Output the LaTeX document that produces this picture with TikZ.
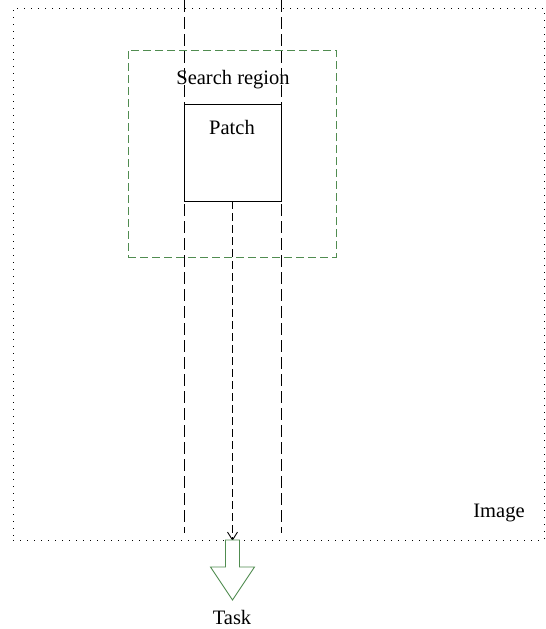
\documentclass[tikz,border=0pt]{standalone}
\usepackage{fontspec}
\setmainfont{Liberation Serif}
\usetikzlibrary{calc}
\definecolor{grn}{RGB}{80,140,80}
\begin{document}
\begin{tikzpicture}[x=1pt,y=-1pt,
  every node/.style={font=\fontsize{20.5}{24}\selectfont, inner sep=0pt, outer sep=0pt},
  imagebox/.style={draw=black, line width=0.9pt, dash pattern=on 1pt off 6pt, anchor=north west},
  searchbox/.style={draw=grn, line width=0.9pt, dash pattern=on 8pt off 4pt, anchor=north west},
  patchbox/.style={draw=black, line width=0.9pt, anchor=north west},
  guide/.style={draw=black, line width=0.9pt, dash pattern=on 12pt off 5pt},
  flow/.style={draw=black, line width=0.9pt, dash pattern=on 8pt off 4pt},
  bigarrow/.style={draw=grn, line width=0.9pt, fill=white}
]
\useasboundingbox (0,0) rectangle (546,629);
\node[imagebox, minimum width=531pt, minimum height=532pt] (img) at (13,8) {};
\node (imglabel) at (499,513) {Image};
\node[searchbox, minimum width=208pt, minimum height=207pt] (sr) at (128,50) {};
\node[patchbox, minimum width=97pt, minimum height=97pt] (patch) at (184,104) {};
\coordinate (g1t) at (184,0);
\coordinate (g1b) at (184,533);
\coordinate (g2t) at (281,0);
\coordinate (g2b) at (281,533);
\draw[guide] (g1t) -- (g1b);
\draw[guide] (g2t) -- (g2b);
\node (srlabel) at (233,80) {Search region};
\node (plabel) at (232,127) {Patch};
\coordinate (arrtip) at (patch.south |- img.south);
\draw[flow] (patch.south) -- (arrtip);
\draw[line width=0.9pt, black] ($(arrtip)+(-5,-8)$) -- (arrtip) -- ($(arrtip)+(5,-8)$);
\coordinate (ba) at (arrtip);
\draw[bigarrow] ($(ba)+(-7,0)$) -- ($(ba)+(7,0)$) -- ($(ba)+(7,27)$) -- ($(ba)+(22,27)$)
  -- ($(ba)+(0,60)$) -- ($(ba)+(-22,27)$) -- ($(ba)+(-7,27)$) -- cycle;
\node (task) at (232,617) {Task};
\end{tikzpicture}
\end{document}
